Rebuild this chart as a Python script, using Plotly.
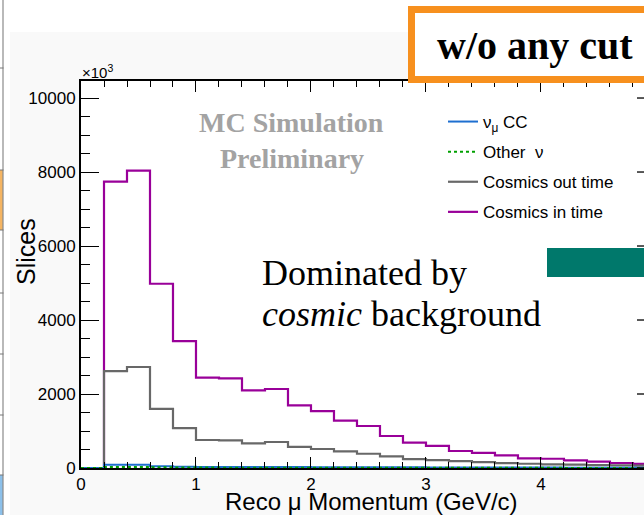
import plotly.graph_objects as go

# Reconstructed muon momentum distribution (slices per 0.2 GeV/c bin)
bin_edges = [0.0, 0.2, 0.4, 0.6, 0.8, 1.0, 1.2, 1.4, 1.6, 1.8, 2.0, 2.2, 2.4,
             2.6, 2.8, 3.0, 3.2, 3.4, 3.6, 3.8, 4.0, 4.2, 4.4, 4.6, 4.8, 5.0]

numu_cc = [0, 90, 90, 45, 35, 30, 30, 28, 25, 25, 22, 20, 20,
           18, 18, 16, 15, 14, 13, 12, 11, 10, 10, 9, 8]
other_nu = [0, 30, 30, 20, 15, 12, 10, 10, 9, 8, 8, 7, 7,
            6, 6, 5, 5, 5, 4, 4, 4, 3, 3, 3, 3]
cosmics_out = [0, 2620, 2730, 1600, 1080, 757, 745, 667, 703, 570, 514, 450, 385,
               315, 240, 215, 185, 160, 130, 115, 100, 90, 80, 72, 65]
cosmics_in = [0, 7740, 8040, 4980, 3430, 2445, 2420, 2100, 2135, 1695, 1535, 1280, 1135,
              865, 685, 600, 460, 410, 340, 262, 250, 205, 175, 135, 110]

y_major_ticks = [0, 2000, 4000, 6000, 8000, 10000]

W, H = 644, 515
L, T, B = 81, 81, 47
PW, PH = W - L, H - T - B
X_MAX = 4.896
Y_MAX = 10460

def px(x):
    return (x - L) / PW

def py(y):
    return (H - B - y) / PH

def step_xy(values):
    return bin_edges, list(values) + [values[-1]]

fig = go.Figure()

series = [
    ("Cosmics in time", cosmics_in, "#990099", "solid", 2.2, 4),
    ("Cosmics out time", cosmics_out, "#686868", "solid", 2.2, 3),
    ("ν<sub>μ</sub> CC", numu_cc, "#1e6fd0", "solid", 2.0, 1),
    ("Other  ν", other_nu, "#00a000", "dot", 2.0, 2),
]
for name, vals, color, dash, width, rank in series:
    xs, ys = step_xy(vals)
    fig.add_trace(go.Scatter(
        x=xs, y=ys, mode="lines", name=name,
        line=dict(color=color, width=width, dash=dash, shape="hv"),
        legendgroup=name, legendrank=rank,
    ))

shapes = []
# light slide canvas behind the ROOT pad
shapes.append(dict(type="rect", xref="paper", yref="paper", layer="below",
                   x0=px(10), x1=px(700), y0=py(32), y1=py(600),
                   fillcolor="#f9f9f9", line=dict(width=0)))
shapes.append(dict(type="rect", xref="paper", yref="paper", layer="below",
                   x0=0, x1=1, y0=0, y1=1, fillcolor="white", line=dict(width=0)))
# strip of the neighbouring panel on the left edge
shapes.append(dict(type="rect", xref="paper", yref="paper", layer="below",
                   x0=px(0), x1=px(3), y0=py(230), y1=py(170),
                   fillcolor="#f5b563", line=dict(width=0)))
shapes.append(dict(type="rect", xref="paper", yref="paper", layer="below",
                   x0=px(0), x1=px(3), y0=py(520), y1=py(475),
                   fillcolor="#8cc0ea", line=dict(width=0)))
shapes.append(dict(type="line", xref="paper", yref="paper",
                   x0=px(3), x1=px(3), y0=py(0), y1=py(520),
                   line=dict(color="#8a8a8a", width=1.2)))
for yy in [68, 170, 230, 293, 354, 415, 475]:
    shapes.append(dict(type="line", xref="paper", yref="paper",
                       x0=px(0), x1=px(3.5), y0=py(yy), y1=py(yy),
                       line=dict(color="#777777", width=1)))
# major ticks of the right-hand frame axis
for v in y_major_ticks:
    shapes.append(dict(type="line", xref="paper", yref="y",
                       x0=px(637), x1=px(656), y0=v, y1=v,
                       line=dict(color="black", width=1.3)))
# label box and accent bar
shapes.append(dict(type="rect", xref="paper", yref="paper",
                   x0=px(411.5), x1=px(700), y0=py(79.5), y1=py(9.5),
                   fillcolor="white", line=dict(color="#f7901e", width=7)))
shapes.append(dict(type="rect", xref="paper", yref="paper",
                   x0=px(547), x1=px(700), y0=py(277), y1=py(248),
                   fillcolor="#00786b", line=dict(width=0)))

serif = "Liberation Serif"
sans = "Liberation Sans"

annotations = [
    dict(text="<b>w/o any cut</b>", x=px(535), y=py(46), xanchor="center",
         font=dict(family=serif, size=40, color="black")),
    dict(text="<b>MC Simulation</b>", x=px(291), y=py(123), xanchor="center",
         font=dict(family=serif, size=28, color="#a3a3a3")),
    dict(text="<b>Preliminary</b>", x=px(292), y=py(158), xanchor="center",
         font=dict(family=serif, size=28, color="#a3a3a3")),
    dict(text="Dominated by", x=px(260), y=py(273), xanchor="left",
         font=dict(family=serif, size=36, color="black")),
    dict(text="<i>cosmic</i> background", x=px(260), y=py(314), xanchor="left",
         font=dict(family=serif, size=36, color="black")),
    dict(text="Slices", x=px(26), y=py(252), xanchor="center", textangle=-90,
         font=dict(family=sans, size=25, color="black")),
    dict(text="Reco μ Momentum (GeV/c)", x=px(520), y=py(501), xanchor="right",
         font=dict(family=sans, size=24, color="black")),
    dict(text="×10<sup>3</sup>", x=px(80), y=py(72), xanchor="left",
         font=dict(family=sans, size=15, color="black")),
]
for a in annotations:
    a.update(xref="paper", yref="paper", yanchor="middle", showarrow=False)

fig.update_layout(
    width=W, height=H,
    margin=dict(l=L, r=0, t=T, b=B, autoexpand=False),
    paper_bgcolor="white", plot_bgcolor="white",
    showlegend=True,
    legend=dict(xref="paper", yref="paper",
                x=px(443), y=py(104), xanchor="left", yanchor="top",
                bgcolor="rgba(0,0,0,0)", traceorder="grouped",
                tracegroupgap=5, itemwidth=30,
                font=dict(family=sans, size=17, color="black")),
    shapes=shapes,
    annotations=annotations,
    xaxis=dict(range=[0, X_MAX], showgrid=False, zeroline=False,
               showline=True, linecolor="black", linewidth=2, mirror="ticks",
               ticks="inside", ticklen=11, tickwidth=1.3, tickcolor="black",
               tickmode="linear", dtick=1, tick0=0,
               minor=dict(ticks="inside", ticklen=6, dtick=0.2, tick0=0,
                          tickcolor="black", tickwidth=1.2, showgrid=False),
               tickfont=dict(family=sans, size=17, color="black")),
    yaxis=dict(range=[0, Y_MAX], showgrid=False, zeroline=False,
               showline=True, linecolor="black", linewidth=2,
               ticks="inside", ticklen=18, tickwidth=1.3, tickcolor="black",
               tickmode="linear", dtick=2000, tick0=0, tickformat="d",
               minor=dict(ticks="inside", ticklen=9, dtick=500, tick0=0,
                          tickcolor="black", tickwidth=1.2, showgrid=False),
               tickfont=dict(family=sans, size=17, color="black")),
)

fig.write_html("out.html")
